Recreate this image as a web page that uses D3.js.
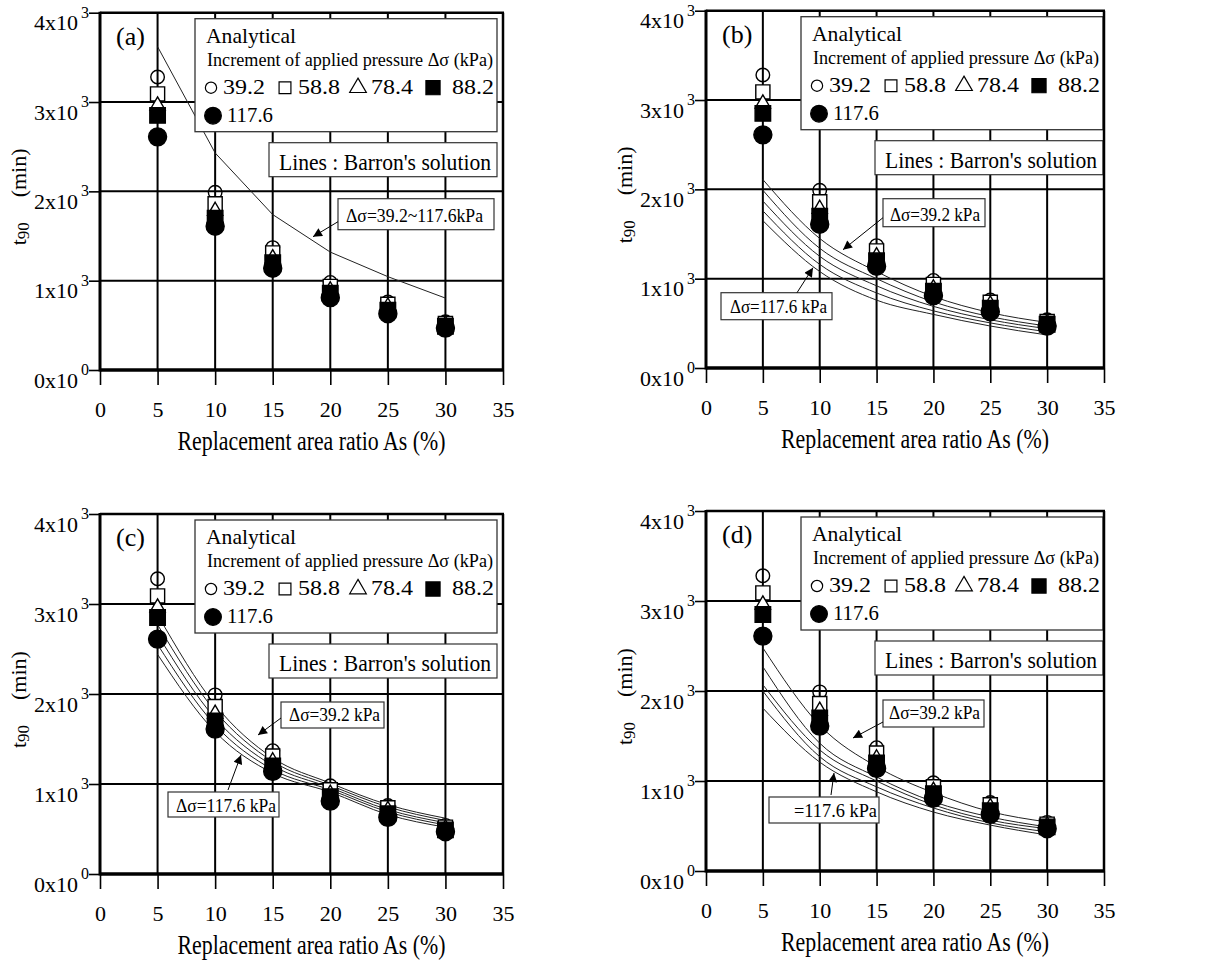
<!DOCTYPE html>
<html>
<head>
<meta charset="utf-8">
<script src="https://cdn.jsdelivr.net/npm/d3@7/dist/d3.min.js"></script>
<style>
body { margin: 0; background: #fff; }
text { font-family: "Liberation Serif", "Times New Roman", serif; fill: #000; }
</style>
</head>
<body>
<svg id="fig" width="1209" height="964"></svg>
<script>
// replacement area ratio As (%) of the tests
const ratios = [5, 10, 15, 20, 25, 30];

// measured t90 (min) for each pressure increment (kPa)
const pressures = ["39.2", "58.8", "78.4", "88.2", "117.6"];
const t90_392 = [3280, 1990, 1370, 980, 760, 540];
const t90_588 = [3090, 1860, 1310, 935, 735, 520];
const t90_784 = [2960, 1780, 1250, 890, 710, 505];
const t90_882 = [2850, 1700, 1200, 860, 670, 490];
const t90_1176 = [2610, 1610, 1140, 810, 630, 470];

// Barron's solution curves, one array per pressure (39.2 ... 117.6)
const barronA = [[3620, 2430, 1740, 1320, 1045, 805]];
const barronB = [
  [2110, 1450, 1080, 800, 620, 510],
  [1990, 1340, 1000, 740, 575, 470],
  [1870, 1250, 920, 690, 540, 440],
  [1760, 1160, 840, 640, 505, 405],
  [1650, 1080, 760, 600, 470, 370]
];
const barronC = [
  [2880, 1880, 1290, 1010, 770, 620],
  [2770, 1810, 1250, 985, 745, 595],
  [2660, 1730, 1205, 960, 715, 570],
  [2550, 1655, 1160, 935, 690, 545],
  [2440, 1580, 1120, 910, 660, 520]
];
const barronD = [
  [2480, 1620, 1160, 870, 660, 545],
  [2270, 1420, 1045, 770, 600, 490],
  [2070, 1345, 1000, 735, 565, 470],
  [2000, 1270, 935, 700, 535, 435],
  [1810, 1210, 880, 655, 510, 400]
];

// axis ticks
const xTicks = [0, 5, 10, 15, 20, 25, 30, 35];
const yTicks = [0, 1000, 2000, 3000, 4000];
const yMantissa = ["0", "1", "2", "3", "4"];
const yExponent = ["0", "3", "3", "3", "3"];

const series = [
  { vals: t90_392, type: d3.symbolCircle, size: 145, fill: "none" },
  { vals: t90_588, type: d3.symbolSquare, size: 200, fill: "#fff" },
  { vals: t90_784, type: d3.symbolTriangle, size: 100, fill: "#fff" },
  { vals: t90_882, type: d3.symbolSquare, size: 240, fill: "#000" },
  { vals: t90_1176, type: d3.symbolCircle, size: 255, fill: "#000" }
];

const panels = [
  { tag: "(a)", left: 100, top: 12.7, right: 503, bottom: 370, curves: barronA, curve: d3.curveLinear,
    notes: [{ box: [238, 186, 156, 31], text: "Δσ=39.2~117.6kPa", tx: 246, ty: 209, len: 137, from: [238, 209], to: [213, 224] }] },
  { tag: "(b)", left: 706, top: 10.7, right: 1104, bottom: 368, curves: barronB, curve: d3.curveMonotoneX,
    notes: [{ box: [177, 188, 102, 28], text: "Δσ=39.2 kPa", tx: 184, ty: 210, len: 90, from: [177, 207], to: [137, 239] },
            { box: [15, 282, 111, 27], text: "Δσ=117.6 kPa", tx: 24, ty: 302, len: 97, from: [91, 282], to: [107, 257] }] },
  { tag: "(c)", left: 100, top: 514, right: 503, bottom: 874, curves: barronC, curve: d3.curveMonotoneX,
    notes: [{ box: [181, 188, 103, 26], text: "Δσ=39.2 kPa", tx: 189, ty: 207, len: 91, from: [181, 204], to: [158, 221] },
            { box: [68, 278, 111, 25], text: "Δσ=117.6 kPa", tx: 76, ty: 298, len: 100, from: [128, 276], to: [141, 241] }] },
  { tag: "(d)", left: 706, top: 511, right: 1104, bottom: 871, curves: barronD, curve: d3.curveMonotoneX,
    notes: [{ box: [177, 189, 101, 27], text: "Δσ=39.2 kPa", tx: 183, ty: 208, len: 91, from: [177, 211], to: [147, 227] },
            { box: [63, 286, 110, 26], text: "=117.6 kPa", tx: 88, ty: 306, len: 83, from: [125, 284], to: [128, 262] }] }
];

const svg = d3.select("#fig");

svg.append("defs").append("marker")
  .attr("id", "arrow")
  .attr("viewBox", "0 0 10 10")
  .attr("refX", 10).attr("refY", 5)
  .attr("markerWidth", 11).attr("markerHeight", 9)
  .attr("markerUnits", "userSpaceOnUse")
  .attr("orient", "auto")
  .append("path").attr("d", "M0,0 L10,5 L0,10 Z").attr("fill", "#000");

function label(g, x, y, str, size, len, anchor) {
  const t = g.append("text").attr("x", x).attr("y", y).attr("font-size", size).text(str);
  if (len) t.attr("textLength", len).attr("lengthAdjust", "spacingAndGlyphs");
  if (anchor) t.attr("text-anchor", anchor);
  return t;
}

function drawPanel(p) {
  const g = svg.append("g");
  const x = d3.scaleLinear().domain([0, 35]).range([p.left, p.right]);
  const y = d3.scaleLinear().domain([0, 4000]).range([p.bottom, p.top]);
  const L = p.left, T = p.top;

  // grid
  g.selectAll(".vg").data(ratios).join("line")
    .attr("x1", d => x(d)).attr("x2", d => x(d))
    .attr("y1", p.top).attr("y2", p.bottom)
    .attr("stroke", "#000").attr("stroke-width", 2);
  g.selectAll(".hg").data([1000, 2000, 3000]).join("line")
    .attr("x1", p.left).attr("x2", p.right)
    .attr("y1", d => y(d)).attr("y2", d => y(d))
    .attr("stroke", "#000").attr("stroke-width", 2);

  // Barron's solution
  const line = d3.line().x((d, i) => x(ratios[i])).y(d => y(d)).curve(p.curve);
  g.selectAll(".barron").data(p.curves).join("path")
    .attr("d", line).attr("fill", "none")
    .attr("stroke", "#222").attr("stroke-width", 1);

  // measured points
  series.forEach(s => {
    g.selectAll(null).data(s.vals).join("path")
      .attr("transform", (d, i) => `translate(${x(ratios[i])},${y(d)})`)
      .attr("d", d3.symbol().type(s.type).size(s.size))
      .attr("fill", s.fill).attr("stroke", "#000").attr("stroke-width", 1.4);
  });

  // legend
  g.append("rect").attr("x", L + 95).attr("y", T + 6).attr("width", 302).attr("height", 113)
    .attr("fill", "#fff").attr("stroke", "#333").attr("stroke-width", 1.3);
  label(g, L + 106, T + 30, "Analytical", 21, 90);
  label(g, L + 107, T + 53, "Increment of applied pressure  Δσ (kPa)", 18, 286);
  const legPos = [[111, 75, 123], [185, 75, 198], [258, 75, 271], [333, 75, 352], [113, 103, 127]];
  const legSize = [100, 140, 120, 200, 220];
  series.forEach((s, i) => {
    const [mx, my, tx] = legPos[i];
    g.append("path").attr("transform", `translate(${L + mx},${T + my})`)
      .attr("d", d3.symbol().type(s.type).size(legSize[i]))
      .attr("fill", s.fill).attr("stroke", "#000").attr("stroke-width", 1.2);
    label(g, L + tx, T + (i < 4 ? 81 : 109), pressures[i], 22, i < 4 ? 42 : 46);
  });

  g.append("rect").attr("x", L + 169).attr("y", T + 130).attr("width", 228).attr("height", 34)
    .attr("fill", "#fff").attr("stroke", "#333").attr("stroke-width", 1.2);
  label(g, L + 179, T + 157, "Lines : Barron's solution", 24, 212);

  // annotations
  p.notes.forEach(n => {
    g.append("rect").attr("x", L + n.box[0]).attr("y", T + n.box[1])
      .attr("width", n.box[2]).attr("height", n.box[3])
      .attr("fill", "#fff").attr("stroke", "#333").attr("stroke-width", 1.2);
    label(g, L + n.tx, T + n.ty, n.text, 18, n.len);
    g.append("line")
      .attr("x1", L + n.from[0]).attr("y1", T + n.from[1])
      .attr("x2", L + n.to[0]).attr("y2", T + n.to[1])
      .attr("stroke", "#000").attr("stroke-width", 1)
      .attr("marker-end", "url(#arrow)");
  });

  label(g, L + 16, T + 32, p.tag, 26);

  // x axis
  const gx = g.append("g").attr("transform", `translate(0,${p.bottom})`);
  gx.call(d3.axisBottom(x).tickValues(d3.range(0, 36).filter(d => d % 5)).tickSize(8).tickFormat(""));
  gx.call(d3.axisBottom(x).tickValues(xTicks).tickSize(15).tickFormat(d3.format("d")));
  gx.selectAll(".domain").remove();
  gx.selectAll(".tick line").attr("stroke-width", 1.6);
  gx.selectAll(".tick text").attr("y", 47).attr("dy", null).attr("font-size", 22);

  // y axis
  const gy = g.append("g").attr("transform", `translate(${p.left},0)`);
  gy.call(d3.axisLeft(y).tickValues(d3.range(0, 4001, 200).filter(d => d % 1000)).tickSize(5).tickFormat(""));
  gy.call(d3.axisLeft(y).tickValues(yTicks).tickSize(11).tickFormat(""));
  gy.selectAll(".domain").remove();
  gy.selectAll(".tick line").attr("stroke-width", 1.6);
  g.selectAll(".ym").data(yTicks).join("text")
    .attr("x", p.left - 22).attr("y", d => y(d) + 17.5)
    .attr("text-anchor", "end").attr("font-size", 22)
    .text((d, i) => yMantissa[i] + "x10");
  g.selectAll(".ye").data(yTicks).join("text")
    .attr("x", p.left - 19).attr("y", d => y(d) + 5)
    .attr("font-size", 16)
    .text((d, i) => yExponent[i]);

  // frame
  g.append("line").attr("x1", p.left).attr("x2", p.left).attr("y1", p.top - 1).attr("y2", p.bottom + 1.5)
    .attr("stroke", "#000").attr("stroke-width", 3);
  g.append("line").attr("x1", p.left).attr("x2", p.right + 1).attr("y1", p.bottom).attr("y2", p.bottom)
    .attr("stroke", "#000").attr("stroke-width", 3.5);
  g.append("line").attr("x1", p.left).attr("x2", p.right + 1).attr("y1", p.top).attr("y2", p.top)
    .attr("stroke", "#000").attr("stroke-width", 2.5);
  g.append("line").attr("x1", p.right).attr("x2", p.right).attr("y1", p.top).attr("y2", p.bottom)
    .attr("stroke", "#000").attr("stroke-width", 2.5);

  // axis titles
  const cx = (p.left + p.right) / 2 + 10;
  label(g, cx, p.bottom + 80, "Replacement area ratio As (%)", 27, 268, "middle");
  const cy = (p.top + p.bottom) / 2;
  const yl = g.append("text").attr("transform", `translate(${p.left - 74},${cy + 54}) rotate(-90)`)
    .attr("font-size", 22);
  yl.append("tspan").text("t");
  yl.append("tspan").attr("font-size", 17).attr("dy", 3).text("90");
  g.append("text").attr("transform", `translate(${p.left - 74},${cy + 6}) rotate(-90)`)
    .attr("font-size", 22).text("(min)");
}

panels.forEach(drawPanel);
</script>
</body>
</html>
